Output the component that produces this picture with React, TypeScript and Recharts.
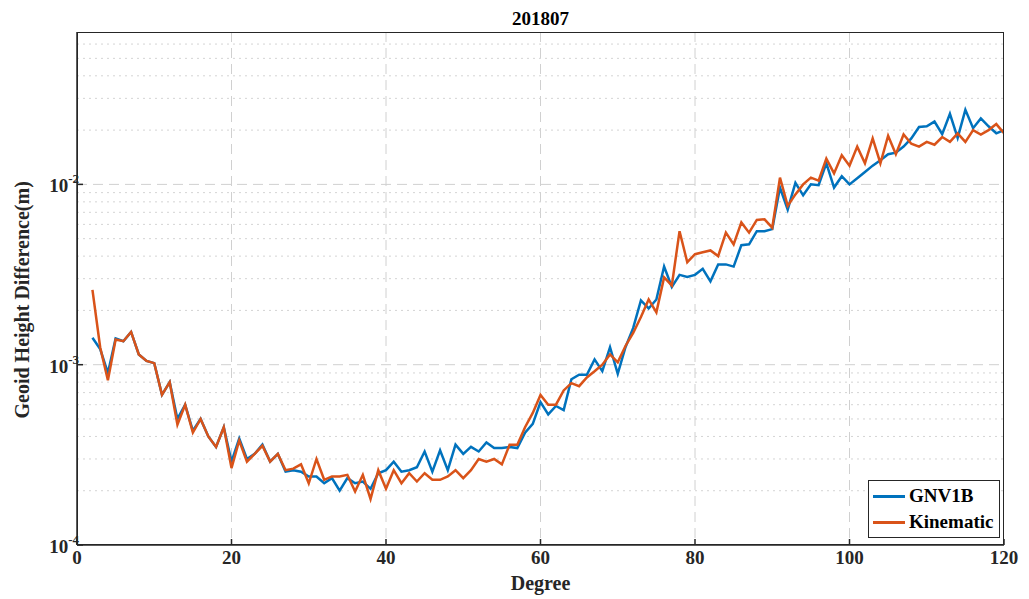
import React from 'react';
import { LineChart, Line, XAxis, YAxis, CartesianGrid, ReferenceLine } from 'recharts';

const degrees = Array.from({ length: 119 }, (_, i) => i + 2);
const gnv1b = [
  1.41e-3, 1.22e-3, 9.0e-4, 1.4e-3, 1.35e-3, 1.52e-3, 1.14e-3, 1.05e-3, 1.02e-3, 6.8e-4,
  8.0e-4, 5.0e-4, 6.0e-4, 4.3e-4, 5.0e-4, 4.0e-4, 3.5e-4, 4.5e-4, 2.9e-4, 3.9e-4,
  3.0e-4, 3.2e-4, 3.6e-4, 2.9e-4, 3.2e-4, 2.55e-4, 2.6e-4, 2.55e-4, 2.4e-4, 2.4e-4,
  2.2e-4, 2.35e-4, 2.0e-4, 2.35e-4, 2.2e-4, 2.25e-4, 2.05e-4, 2.5e-4, 2.6e-4, 2.9e-4,
  2.55e-4, 2.6e-4, 2.7e-4, 3.3e-4, 2.55e-4, 3.35e-4, 2.6e-4, 3.6e-4, 3.2e-4, 3.5e-4,
  3.3e-4, 3.7e-4, 3.45e-4, 3.45e-4, 3.5e-4, 3.45e-4, 4.2e-4, 4.7e-4, 6.2e-4, 5.3e-4,
  5.9e-4, 5.6e-4, 8.3e-4, 8.8e-4, 8.8e-4, 1.07e-3, 9.2e-4, 1.25e-3, 8.9e-4, 1.25e-3,
  1.6e-3, 2.27e-3, 2.05e-3, 2.3e-3, 3.5e-3, 2.7e-3, 3.15e-3, 3.07e-3, 3.15e-3, 3.4e-3,
  2.9e-3, 3.6e-3, 3.6e-3, 3.5e-3, 4.6e-3, 4.65e-3, 5.5e-3, 5.5e-3, 5.65e-3, 9.6e-3,
  7.25e-3, 1.02e-2, 8.7e-3, 1.0e-2, 9.9e-3, 1.31e-2, 9.6e-3, 1.11e-2, 1.0e-2, 1.08e-2,
  1.17e-2, 1.27e-2, 1.36e-2, 1.47e-2, 1.5e-2, 1.62e-2, 1.8e-2, 2.08e-2, 2.1e-2, 2.23e-2,
  1.9e-2, 2.46e-2, 1.81e-2, 2.59e-2, 2.05e-2, 2.32e-2, 2.1e-2, 1.92e-2, 2.0e-2,
];
const kinematic = [
  2.6e-3, 1.25e-3, 8.2e-4, 1.38e-3, 1.35e-3, 1.52e-3, 1.14e-3, 1.05e-3, 1.02e-3, 6.8e-4,
  8.0e-4, 4.65e-4, 6.0e-4, 4.2e-4, 5.0e-4, 4.0e-4, 3.5e-4, 4.5e-4, 2.67e-4, 3.8e-4,
  2.9e-4, 3.2e-4, 3.55e-4, 2.9e-4, 3.2e-4, 2.6e-4, 2.65e-4, 2.8e-4, 2.2e-4, 3.0e-4,
  2.3e-4, 2.4e-4, 2.4e-4, 2.45e-4, 1.98e-4, 2.45e-4, 1.8e-4, 2.6e-4, 2.05e-4, 2.6e-4,
  2.2e-4, 2.5e-4, 2.25e-4, 2.5e-4, 2.3e-4, 2.3e-4, 2.4e-4, 2.6e-4, 2.35e-4, 2.6e-4,
  3.0e-4, 2.9e-4, 3.0e-4, 2.8e-4, 3.6e-4, 3.6e-4, 4.5e-4, 5.4e-4, 6.8e-4, 6.0e-4,
  6.0e-4, 7.2e-4, 7.9e-4, 7.6e-4, 8.5e-4, 9.2e-4, 1.0e-3, 1.14e-3, 1.03e-3, 1.27e-3,
  1.5e-3, 1.84e-3, 2.3e-3, 1.95e-3, 3.05e-3, 2.75e-3, 5.5e-3, 3.7e-3, 4.1e-3, 4.2e-3,
  4.3e-3, 4.0e-3, 5.4e-3, 4.65e-3, 6.15e-3, 5.4e-3, 6.35e-3, 6.4e-3, 5.75e-3, 1.09e-2,
  7.6e-3, 8.8e-3, 1.0e-2, 1.09e-2, 1.05e-2, 1.39e-2, 1.15e-2, 1.45e-2, 1.27e-2, 1.62e-2,
  1.31e-2, 1.8e-2, 1.31e-2, 1.86e-2, 1.47e-2, 1.89e-2, 1.68e-2, 1.62e-2, 1.72e-2, 1.66e-2,
  1.83e-2, 1.72e-2, 1.92e-2, 1.72e-2, 2.0e-2, 1.89e-2, 2.0e-2, 2.16e-2, 1.92e-2,
];
const xTicks = [0, 20, 40, 60, 80, 100, 120];
const yTicks = [1e-4, 1e-3, 1e-2];
const minorY = [2, 3, 4, 5, 6, 7, 8, 9].flatMap((m) => [m * 1e-4, m * 1e-3, m * 1e-2]).filter((v) => v < 0.07);

const data = degrees.map((d, i) => ({ degree: d, gnv1b: gnv1b[i], kinematic: kinematic[i] }));

const font = '"Liberation Serif", "Times New Roman", serif';

const YTick = (props: any) => {
  const { x, y, payload } = props;
  const exp = Math.round(Math.log10(payload.value));
  return (
    <text x={x - 2} y={y + 8} textAnchor="end" fontFamily={font} fontWeight="bold" fontSize={19} fill="#262626">
      10<tspan dy={-9} fontSize={13}>{exp}</tspan>
    </text>
  );
};

const LegendBox = () => (
  <div style={{ position: 'absolute', left: 860, top: 472, border: '1.5px solid #262626', background: '#fff', padding: '2px 6px 2px 4px', fontFamily: font, fontWeight: 'bold', fontSize: 19, color: '#000', lineHeight: '26px' }}>
    <div style={{ display: 'flex', alignItems: 'center' }}>
      <span style={{ display: 'inline-block', width: 32, height: 3, background: '#0072BD', marginRight: 4 }} />GNV1B
    </div>
    <div style={{ display: 'flex', alignItems: 'center' }}>
      <span style={{ display: 'inline-block', width: 32, height: 3, background: '#D95319', marginRight: 4 }} />Kinematic
    </div>
  </div>
);

export default function App() {
  return (
    <div style={{ position: 'relative', width: 1021, height: 591 }}>
      <div style={{ position: 'absolute', left: 69, width: 927, top: 0, textAlign: 'center', fontFamily: font, fontWeight: 'bold', fontSize: 19, color: '#000' }}>
        201807
      </div>
      <LineChart width={1021} height={591} data={data} margin={{ top: 24, right: 25, left: 0, bottom: 0 }}>
        <CartesianGrid horizontal={false} verticalValues={[20, 40, 60, 80, 100]} stroke="#d0d0d0" strokeDasharray="10 6" />
        {minorY.map((v) => (
          <ReferenceLine key={v} y={v} stroke="#d4d4d4" strokeDasharray="2 4" />
        ))}
        {yTicks.slice(1).map((v) => (
          <ReferenceLine key={'M' + v} y={v} stroke="#d0d0d0" strokeDasharray="10 6" />
        ))}
        <XAxis dataKey="degree" type="number" domain={[0, 120]} ticks={xTicks} allowDataOverflow
          stroke="#262626" strokeWidth={1.5} tickSize={-6} height={54}
          tick={{ fontFamily: font, fontWeight: 'bold', fontSize: 19, fill: '#262626', dy: 10 }}
          label={{ value: 'Degree', position: 'insideBottom', offset: 9, fontFamily: font, fontWeight: 'bold', fontSize: 20, fill: '#262626' }} />
        <YAxis scale="log" domain={[1e-4, 0.07]} ticks={yTicks} allowDataOverflow type="number"
          stroke="#262626" strokeWidth={1.5} tickSize={-6} width={69} tick={<YTick />}
          label={{ value: 'Geoid Height Difference(m)', angle: -90, position: 'insideLeft', offset: 14, dy: 130, fontFamily: font, fontWeight: 'bold', fontSize: 20, fill: '#262626' }} />
        <Line dataKey="gnv1b" name="GNV1B" stroke="#0072BD" strokeWidth={2.5} dot={false} isAnimationActive={false} />
        <Line dataKey="kinematic" name="Kinematic" stroke="#D95319" strokeWidth={2.5} dot={false} isAnimationActive={false} />
      </LineChart>
      <div style={{ position: 'absolute', left: 69, top: 24, width: 927, height: 513, boxSizing: 'border-box', border: '1.5px solid #262626', pointerEvents: 'none' }} />
      <LegendBox />
    </div>
  );
}
